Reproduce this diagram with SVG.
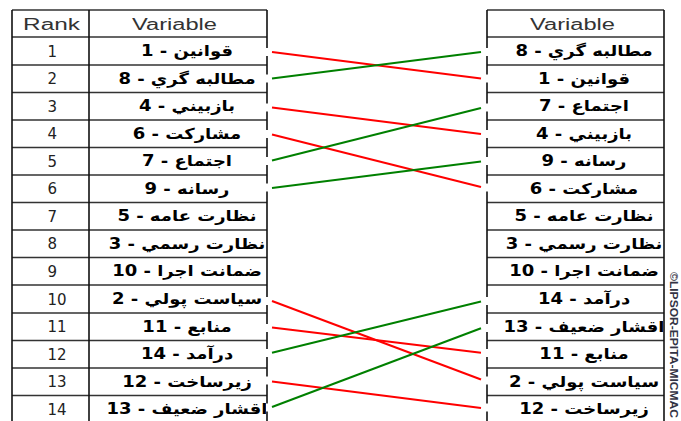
<svg xmlns="http://www.w3.org/2000/svg" width="681" height="421" viewBox="0 0 681 421">
<style>
.grid{stroke:#333;stroke-width:1.6;fill:none}
.edge{stroke:#111;stroke-width:1.6;fill:none}
.hdr{font-family:"Liberation Sans",Arial,sans-serif;font-size:16px;fill:#333}
.rk{font-family:"DejaVu Sans",sans-serif;font-size:15px;fill:#222}
.var{font-family:"DejaVu Sans",sans-serif;font-size:15px;font-weight:bold;fill:#000;text-anchor:middle}
.red{stroke:#ff0000;stroke-width:2;fill:none}
.green{stroke:#008000;stroke-width:2;fill:none}
</style>
<defs>
<clipPath id="clipL"><rect x="90" y="0" width="176" height="421"/></clipPath>
<clipPath id="clipR"><rect x="488" y="0" width="175" height="421"/></clipPath>
</defs>
<rect width="681" height="421" fill="#fff"/>

<g id="left-table">
<path class="grid" d="M12 10H267M12 37H267M12 65H267M12 92.5H267M12 120H267M12 147.5H267M12 175H267M12 202.5H267M12 230H267M12 257.5H267M12 285H267M12 313H267M12 340.5H267M12 368H267M12 395.5H267"/>
<path class="edge" d="M12 10V421" stroke-width="2.5"/>
<path class="edge" d="M89 10V421"/>
<path class="edge" d="M267 10V48M267 56V74.5M267 82.5V103.5M267 111.5V130M267 138V157M267 165V183.5M267 191.5V297M267 305V324M267 332V349M267 357V376.5M267 384.5V403.5M267 411.5V421"/>
<text class="hdr" x="23" y="30" textLength="57" lengthAdjust="spacingAndGlyphs">Rank</text>
<text class="hdr" x="132" y="30" textLength="85" lengthAdjust="spacingAndGlyphs">Variable</text>
</g>

<g id="right-table">
<path class="grid" d="M487 10H664M487 37H664M487 65H664M487 92.5H664M487 120H664M487 147.5H664M487 175H664M487 202.5H664M487 230H664M487 257.5H664M487 285H664M487 313H664M487 340.5H664M487 368H664M487 395.5H664"/>
<path class="edge" d="M664 10V421"/>
<path class="edge" d="M487 10V48M487 56V74.5M487 82.5V103.5M487 111.5V130M487 138V157M487 165V183.5M487 191.5V297M487 305V324M487 332V349M487 357V376.5M487 384.5V403.5M487 411.5V421"/>
<text class="hdr" x="530" y="30" textLength="85" lengthAdjust="spacingAndGlyphs">Variable</text>
</g>

<g id="rank-column">
<text class="rk" x="47.5" y="56.5">1</text>
<text class="rk" x="47.5" y="84">2</text>
<text class="rk" x="47.5" y="111.5">3</text>
<text class="rk" x="47.5" y="139">4</text>
<text class="rk" x="47.5" y="166.5">5</text>
<text class="rk" x="47.5" y="194">6</text>
<text class="rk" x="47.5" y="221.5">7</text>
<text class="rk" x="47.5" y="249">8</text>
<text class="rk" x="47.5" y="276.5">9</text>
<text class="rk" x="47.5" y="304.5">10</text>
<text class="rk" x="47.5" y="332">11</text>
<text class="rk" x="47.5" y="359.5">12</text>
<text class="rk" x="47.5" y="387">13</text>
<text class="rk" x="47.5" y="414.5">14</text>
</g>

<g clip-path="url(#clipL)">
<g id="L1"><text class="var" direction="rtl" transform="translate(187 56) scale(1.2 1)">قوانين - 1</text></g>
<g id="L2"><text class="var" direction="rtl" transform="translate(187 83.5) scale(1.2 1)">مطالبه گري - 8</text></g>
<g id="L3"><text class="var" direction="rtl" transform="translate(187 111) scale(1.2 1)">بازبيني - 4</text></g>
<g id="L4"><text class="var" direction="rtl" transform="translate(187 138.5) scale(1.2 1)">مشاركت - 6</text></g>
<g id="L5"><text class="var" direction="rtl" transform="translate(187 166) scale(1.2 1)">اجتماع - 7</text></g>
<g id="L6"><text class="var" direction="rtl" transform="translate(187 193.5) scale(1.2 1)">رسانه - 9</text></g>
<g id="L7"><text class="var" direction="rtl" transform="translate(187 221) scale(1.2 1)">نظارت عامه - 5</text></g>
<g id="L8"><text class="var" direction="rtl" transform="translate(187 248.5) scale(1.2 1)">نظارت رسمي - 3</text></g>
<g id="L9"><text class="var" direction="rtl" transform="translate(187 276) scale(1.2 1)">ضمانت اجرا - 10</text></g>
<g id="L10"><text class="var" direction="rtl" transform="translate(187 304) scale(1.2 1)">سياست پولي - 2</text></g>
<g id="L11"><text class="var" direction="rtl" transform="translate(187 331.5) scale(1.2 1)">منابع - 11</text></g>
<g id="L12"><text class="var" direction="rtl" transform="translate(187 359) scale(1.2 1)">درآمد - 14</text></g>
<g id="L13"><text class="var" direction="rtl" transform="translate(187 386.5) scale(1.2 1)">زيرساخت - 12</text></g>
<g id="L14"><text class="var" direction="rtl" transform="translate(187 414) scale(1.2 1)">اقشار ضعيف - 13</text></g>
</g>

<g clip-path="url(#clipR)">
<g id="R1"><text class="var" direction="rtl" transform="translate(584 56) scale(1.2 1)">مطالبه گري - 8</text></g>
<g id="R2"><text class="var" direction="rtl" transform="translate(584 83.5) scale(1.2 1)">قوانين - 1</text></g>
<g id="R3"><text class="var" direction="rtl" transform="translate(584 111) scale(1.2 1)">اجتماع - 7</text></g>
<g id="R4"><text class="var" direction="rtl" transform="translate(584 138.5) scale(1.2 1)">بازبيني - 4</text></g>
<g id="R5"><text class="var" direction="rtl" transform="translate(584 166) scale(1.2 1)">رسانه - 9</text></g>
<g id="R6"><text class="var" direction="rtl" transform="translate(584 193.5) scale(1.2 1)">مشاركت - 6</text></g>
<g id="R7"><text class="var" direction="rtl" transform="translate(584 221) scale(1.2 1)">نظارت عامه - 5</text></g>
<g id="R8"><text class="var" direction="rtl" transform="translate(584 248.5) scale(1.2 1)">نظارت رسمي - 3</text></g>
<g id="R9"><text class="var" direction="rtl" transform="translate(584 276) scale(1.2 1)">ضمانت اجرا - 10</text></g>
<g id="R10"><text class="var" direction="rtl" transform="translate(584 304) scale(1.2 1)">درآمد - 14</text></g>
<g id="R11"><text class="var" direction="rtl" transform="translate(584 331.5) scale(1.2 1)">اقشار ضعيف - 13</text></g>
<g id="R12"><text class="var" direction="rtl" transform="translate(584 359) scale(1.2 1)">منابع - 11</text></g>
<g id="R13"><text class="var" direction="rtl" transform="translate(584 386.5) scale(1.2 1)">سياست پولي - 2</text></g>
<g id="R14"><text class="var" direction="rtl" transform="translate(584 414) scale(1.2 1)">زيرساخت - 12</text></g>
</g>

<g id="connectors">
<line class="red" x1="272" y1="52" x2="481" y2="78.5"/>
<line class="green" x1="272" y1="78.5" x2="481" y2="52"/>
<line class="red" x1="272" y1="107.5" x2="481" y2="134"/>
<line class="red" x1="272" y1="134.5" x2="481" y2="187"/>
<line class="green" x1="272" y1="160.5" x2="481" y2="108"/>
<line class="green" x1="272" y1="188" x2="481" y2="161.5"/>
<line class="red" x1="272" y1="301" x2="481" y2="379.5"/>
<line class="red" x1="272" y1="327.5" x2="481" y2="352.7"/>
<line class="green" x1="272" y1="352.7" x2="481" y2="301.5"/>
<line class="red" x1="272" y1="381.5" x2="481" y2="408"/>
<line class="green" x1="272" y1="407" x2="481" y2="328.3"/>
</g>

<g id="watermark">
<text x="670" y="272" transform="rotate(90 670 272)" font-family="Liberation Sans, Arial, sans-serif" font-size="10" font-weight="bold" fill="#334" textLength="146" lengthAdjust="spacingAndGlyphs">©LIPSOR-EPITA-MICMAC</text>
</g>
</svg>
